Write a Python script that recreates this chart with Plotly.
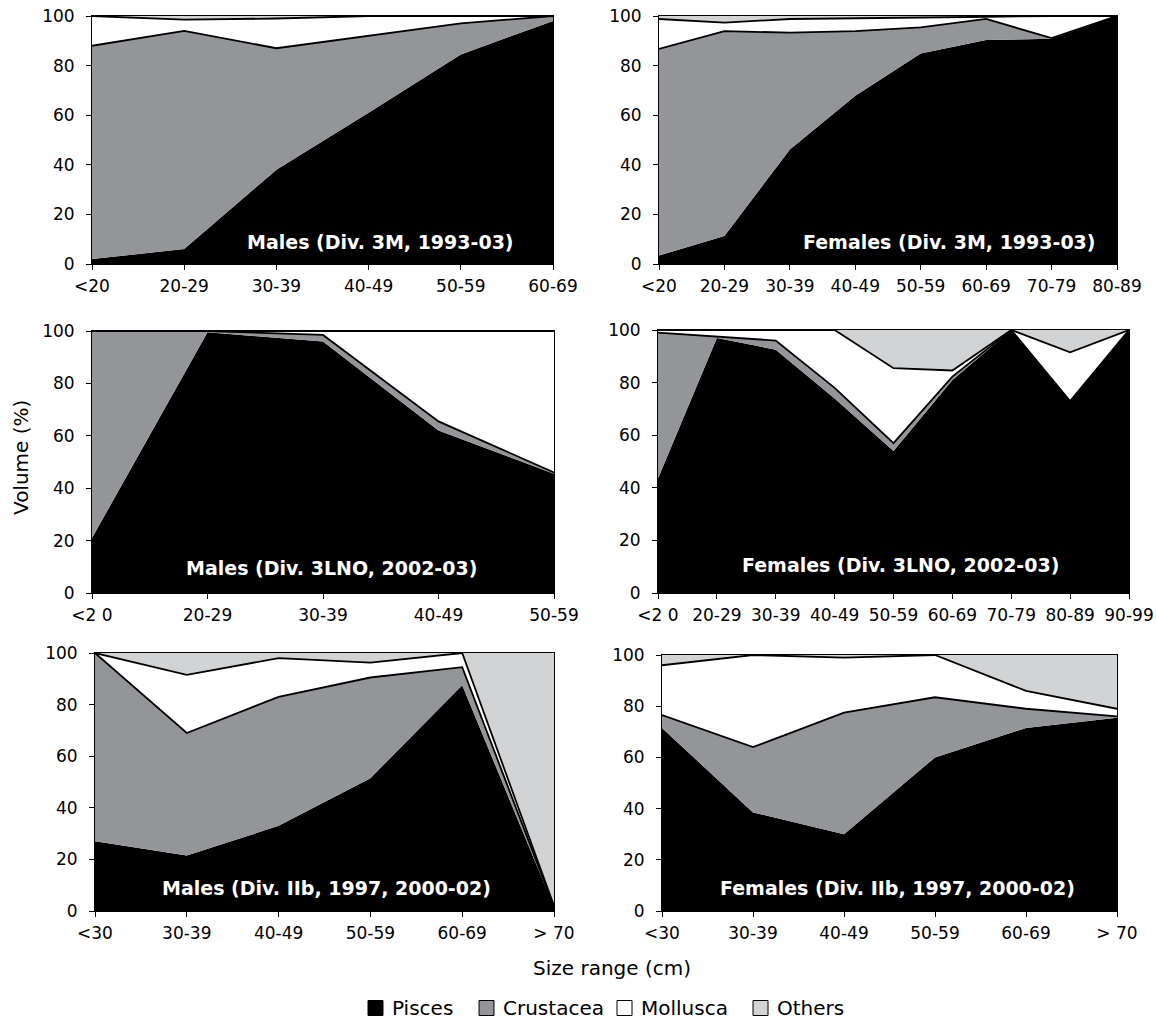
import plotly.graph_objects as go

W, H = 1156, 1023

series_names = ["Pisces", "Crustacea", "Mollusca", "Others"]
fill_colors = ["#000000", "#939598", "#ffffff", "#d1d3d4"]

# Panel 1: Males (Div. 3M, 1993-03)
cats_m3m = ["<20", "20-29", "30-39", "40-49", "50-59", "60-69"]
pisces_m3m = [2, 6, 38, 61, 84.5, 98]
crust_m3m = [86, 88, 49, 31, 12.5, 2]
moll_m3m = [12, 4.5, 12, 8, 3, 0]
oth_m3m = [0, 1.5, 1, 0, 0, 0]

# Panel 2: Females (Div. 3M, 1993-03)
cats_f3m = ["<20", "20-29", "30-39", "40-49", "50-59", "60-69", "70-79", "80-89"]
pisces_f3m = [3.4, 11.3, 46.2, 67.8, 84.9, 90.3, 90.8, 100]
crust_f3m = [83.3, 82.6, 47.1, 26.1, 10.5, 8.5, 0.3, 0]
moll_f3m = [12.1, 3.4, 5.5, 5.1, 3.9, 0.9, 8.9, 0]
oth_f3m = [1.2, 2.7, 1.2, 1.0, 0.7, 0.3, 0, 0]

# Panel 3: Males (Div. 3LNO, 2002-03)
cats_m3l = ["<2 0", "20-29", "30-39", "40-49", "50-59"]
pisces_m3l = [21, 99.5, 96, 62, 45.5]
crust_m3l = [79, 0.5, 2.5, 3.5, 0.5]
moll_m3l = [0, 0, 1.5, 34.5, 54]
oth_m3l = [0, 0, 0, 0, 0]

# Panel 4: Females (Div. 3LNO, 2002-03)
cats_f3l = ["<2 0", "20-29", "30-39", "40-49", "50-59", "60-69", "70-79", "80-89", "90-99"]
pisces_f3l = [43.5, 97, 92.5, 74, 54, 81, 100, 73, 100]
crust_f3l = [55.5, 0.5, 3.5, 4, 3, 1.3, 0, 0, 0]
moll_f3l = [1, 2.5, 4, 22, 28.5, 2.3, 0, 18.5, 0]
oth_f3l = [0, 0, 0, 0, 14.5, 15.4, 0, 8.5, 0]

# Panel 5: Males (Div. IIb, 1997, 2000-02)
cats_m2b = ["<30", "30-39", "40-49", "50-59", "60-69", "> 70"]
pisces_m2b = [27, 21.5, 33, 51.5, 87.5, 1.5]
crust_m2b = [73, 47.5, 50, 39, 7, 0]
moll_m2b = [0, 22.5, 15, 5.8, 5.5, 0.5]
oth_m2b = [0, 8.5, 2, 3.7, 0, 98]

# Panel 6: Females (Div. IIb, 1997, 2000-02)
cats_f2b = ["<30", "30-39", "40-49", "50-59", "60-69", "> 70"]
pisces_f2b = [71.5, 38.5, 30, 60, 71.5, 75.5]
crust_f2b = [5, 25.5, 47.5, 23.5, 7.5, 0.5]
moll_f2b = [19.5, 36, 21.5, 16.5, 7, 3]
oth_f2b = [4, 0, 1, 0, 14, 21]

panel_titles = [
    "Males (Div. 3M, 1993-03)",
    "Females (Div. 3M, 1993-03)",
    "Males (Div. 3LNO, 2002-03)",
    "Females (Div. 3LNO, 2002-03)",
    "Males (Div. IIb, 1997, 2000-02)",
    "Females (Div. IIb, 1997, 2000-02)",
]

y_ticks = [0, 20, 40, 60, 80, 100]

panels = [
    (cats_m3m, [pisces_m3m, crust_m3m, moll_m3m, oth_m3m]),
    (cats_f3m, [pisces_f3m, crust_f3m, moll_f3m, oth_f3m]),
    (cats_m3l, [pisces_m3l, crust_m3l, moll_m3l, oth_m3l]),
    (cats_f3l, [pisces_f3l, crust_f3l, moll_f3l, oth_f3l]),
    (cats_m2b, [pisces_m2b, crust_m2b, moll_m2b, oth_m2b]),
    (cats_f2b, [pisces_f2b, crust_f2b, moll_f2b, oth_f2b]),
]

# plot-area boxes in pixels: left, right, top, bottom
boxes = [
    (92, 553, 16, 264),
    (659, 1117, 16, 264),
    (92, 554, 331, 593),
    (658, 1129, 330, 593),
    (95, 554, 653, 911),
    (662, 1117, 655, 911),
]
label_pos = [(380, 242), (949, 242), (331, 568), (900, 565), (326, 888), (897, 888)]

line_widths = [0, 1.8, 1.8, 0]
FONT = "DejaVu Sans, Liberation Sans, Arial, sans-serif"

fig = go.Figure()
layout = {}
for i, ((cats, series), box) in enumerate(zip(panels, boxes)):
    n = i + 1
    xa = "x" if n == 1 else f"x{n}"
    ya = "y" if n == 1 else f"y{n}"
    xs = list(range(len(cats)))
    for name, vals, col, lw in zip(series_names, series, fill_colors, line_widths):
        fig.add_trace(go.Scatter(
            x=xs, y=vals, name=name, mode="lines",
            stackgroup=f"g{n}", fillcolor=col,
            line=dict(color="black", width=lw),
            xaxis=xa, yaxis=ya, showlegend=False, hoverinfo="skip",
        ))
    l, r, t, b = box
    axis_common = dict(
        showline=True, linecolor="black", linewidth=1, mirror=True,
        ticks="outside", ticklen=5, tickcolor="black", tickwidth=1,
        showgrid=False, zeroline=False, automargin=False,
        tickfont=dict(family=FONT, size=17, color="black"),
    )
    layout["xaxis" if n == 1 else f"xaxis{n}"] = dict(
        domain=[l / W, r / W], anchor=ya, range=[0, len(cats) - 1],
        tickmode="array", tickvals=xs, ticktext=cats, ticklabelstandoff=2,
        **axis_common,
    )
    layout["yaxis" if n == 1 else f"yaxis{n}"] = dict(
        domain=[1 - b / H, 1 - t / H], anchor=xa, range=[0, 100],
        tickmode="array", tickvals=y_ticks, ticktext=[str(v) for v in y_ticks],
        ticklabelstandoff=8, **axis_common,
    )

annotations = []
for (px, py), title in zip(label_pos, panel_titles):
    annotations.append(dict(
        x=px / W, y=1 - py / H, xref="paper", yref="paper",
        text=f"<b>{title}</b>", showarrow=False, xanchor="center", yanchor="middle",
        font=dict(family=FONT, size=19, color="white"),
    ))
annotations.append(dict(
    x=21 / W, y=1 - 458 / H, xref="paper", yref="paper", text="Volume (%)",
    textangle=-90, showarrow=False, xanchor="center", yanchor="middle",
    font=dict(family=FONT, size=20, color="black"),
))
annotations.append(dict(
    x=612 / W, y=1 - 968 / H, xref="paper", yref="paper", text="Size range (cm)",
    showarrow=False, xanchor="center", yanchor="middle",
    font=dict(family=FONT, size=20, color="black"),
))

# manual legend
shapes = []
leg_x = [368, 479, 617, 753]
leg_y = 1008
sq = 15
for x0, name, col in zip(leg_x, series_names, fill_colors):
    shapes.append(dict(
        type="rect", xref="paper", yref="paper",
        x0=x0 / W, x1=(x0 + sq) / W, y0=1 - (leg_y + sq / 2) / H, y1=1 - (leg_y - sq / 2) / H,
        fillcolor=col, line=dict(color="black", width=1),
    ))
    annotations.append(dict(
        x=(x0 + sq + 7) / W, y=1 - leg_y / H, xref="paper", yref="paper", text=name,
        showarrow=False, xanchor="left", yanchor="middle",
        font=dict(family=FONT, size=20, color="black"),
    ))

fig.update_layout(
    width=W, height=H, margin=dict(l=0, r=0, t=0, b=0),
    paper_bgcolor="white", plot_bgcolor="white",
    showlegend=False, annotations=annotations, shapes=shapes,
    **layout,
)

fig.write_html("out.html")
